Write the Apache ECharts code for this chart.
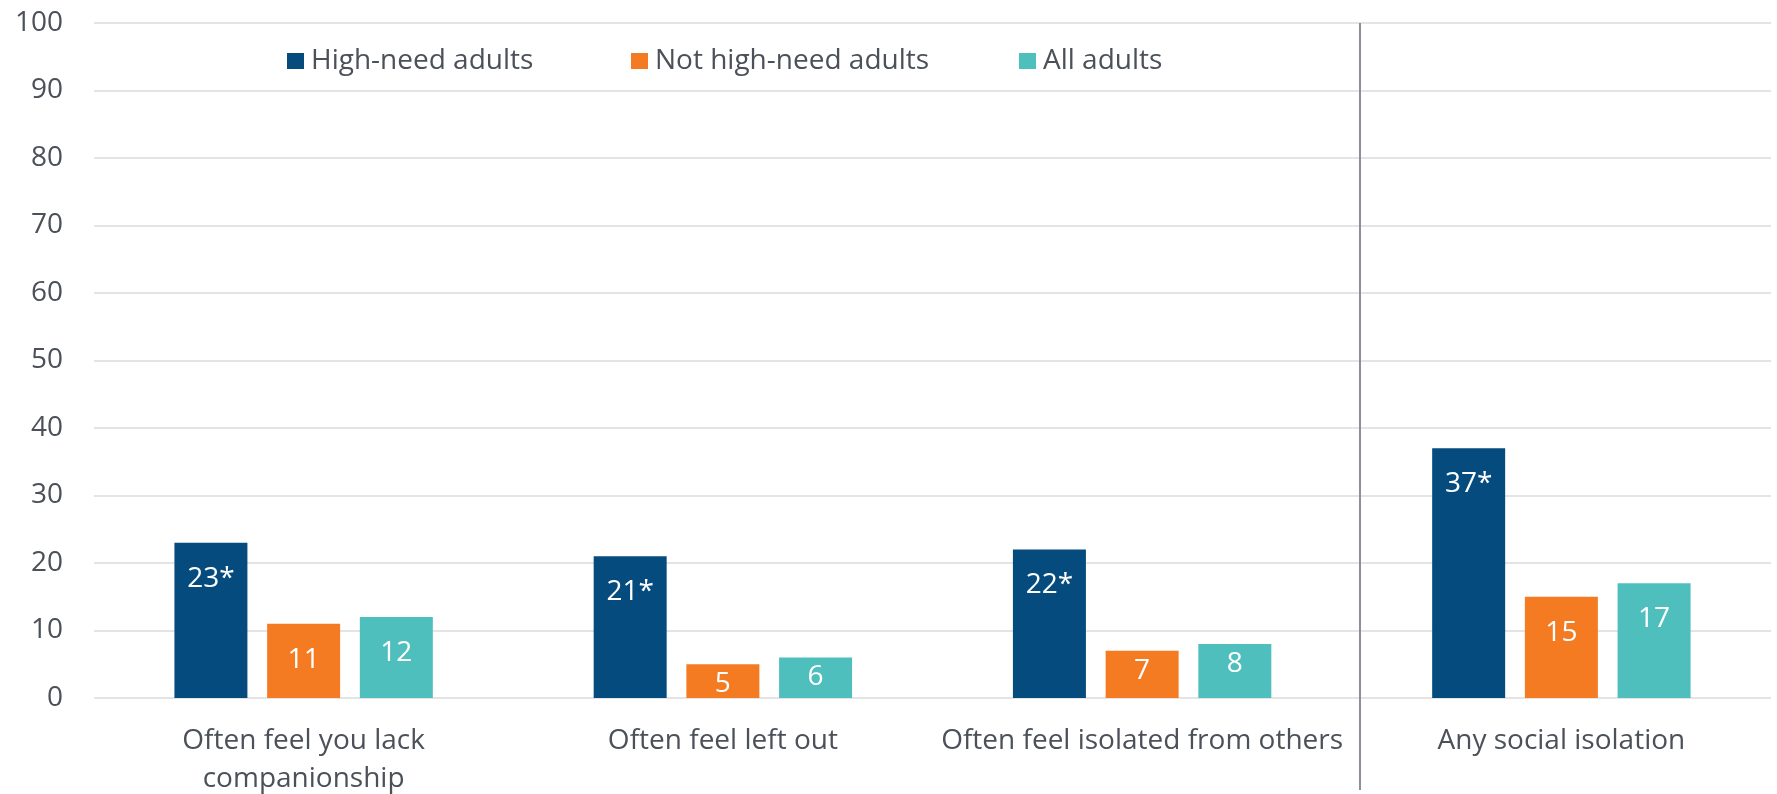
<!DOCTYPE html>
<html>
<head>
<meta charset="utf-8">
<script src="https://cdn.jsdelivr.net/npm/echarts@6/dist/echarts.min.js"></script>
<style>
  html, body { margin: 0; padding: 0; background: #fff; }
  #chart { width: 1777px; height: 794px; }
</style>
</head>
<body>
<div id="chart"></div>
<script>
// 类别标签（换行写在名称里）
const categories = [
    'Often feel you lack\ncompanionship',
    'Often feel left out',
    'Often feel isolated from others',
    'Any social isolation'
];

// 系列名称
const seriesNames = ['High-need adults', 'Not high-need adults', 'All adults'];

// 数值（%）
const highNeed = [23, 21, 22, 37];
const notHighNeed = [11, 5, 7, 15];
const allAdults = [12, 6, 8, 17];

// 显著性标记（*）
const highNeedSig = [true, true, true, true];

// y轴刻度
const yMin = 0;
const yMax = 100;
const yStep = 10;

const colors = ['#064B7D', '#F47B22', '#4FBFBE'];
const textColor = '#4b5059';
const fontFamily = '"Open Sans", "Noto Sans", sans-serif';

const chartDom = document.getElementById('chart');
const myChart = echarts.init(chartDom);

const barLabel = (sig) => ({
    show: true,
    position: 'insideTop',
    distance: 22,
    color: '#fff',
    fontSize: 28,
    fontFamily: fontFamily,
    formatter: function (params) {
        return params.value + (sig && sig[params.dataIndex] ? '*' : '');
    }
});

// 矮柱子的标签离顶部近一些
const toItems = (values) => values.map(v => ({
    value: v,
    label: { distance: v < 10 ? 6 : 22 }
}));

// 图例：每项单独放置
const legendLefts = [282, 626, 1014];
const legends = seriesNames.map((name, i) => ({
    data: [name],
    left: legendLefts[i],
    top: 42,
    itemWidth: 17,
    itemHeight: 16,
    icon: 'rect',
    textStyle: {
        color: textColor,
        fontSize: 28,
        fontFamily: fontFamily,
        padding: [0, 0, 0, 2]
    }
}));

const option = {
    backgroundColor: '#fff',
    animation: false,
    color: colors,
    grid: {
        left: 94,
        right: 6,
        top: 23,
        bottom: 96,
        containLabel: false,
        outerBoundsMode: 'none'
    },
    legend: legends,
    xAxis: {
        type: 'category',
        data: categories,
        axisLine: { show: false },
        axisTick: { show: false },
        axisLabel: {
            color: textColor,
            fontSize: 28,
            fontFamily: fontFamily,
            lineHeight: 38,
            margin: 24,
            interval: 0
        }
    },
    yAxis: {
        type: 'value',
        min: yMin,
        max: yMax,
        interval: yStep,
        axisLine: { show: false },
        axisTick: { show: false },
        axisLabel: {
            color: textColor,
            fontSize: 28,
            fontFamily: fontFamily,
            margin: 31
        },
        splitLine: {
            lineStyle: { color: '#e4e4e4', width: 2 }
        }
    },
    series: [
        {
            name: seriesNames[0],
            type: 'bar',
            data: toItems(highNeed),
            barWidth: 73,
            barGap: '27%',
            label: barLabel(highNeedSig)
        },
        {
            name: seriesNames[1],
            type: 'bar',
            data: toItems(notHighNeed),
            barWidth: 73,
            barGap: '27%',
            label: barLabel(null)
        },
        {
            name: seriesNames[2],
            type: 'bar',
            data: toItems(allAdults),
            barWidth: 73,
            barGap: '27%',
            label: barLabel(null)
        }
    ]
};

myChart.setOption(option);

// 分隔线：位于第3和第4个类别之间，用坐标轴换算位置
const x2 = myChart.convertToPixel({ xAxisIndex: 0 }, 2);
const x3 = myChart.convertToPixel({ xAxisIndex: 0 }, 3);
const xDiv = Math.round(x2 + (x3 - x2) * 0.52);
const yTop = myChart.convertToPixel({ yAxisIndex: 0 }, yMax);

myChart.setOption({
    graphic: [
        {
            type: 'line',
            shape: { x1: xDiv, y1: yTop, x2: xDiv, y2: myChart.getHeight() - 4 },
            style: { stroke: '#8a8f99', lineWidth: 2 },
            z: 10
        }
    ]
});

window.addEventListener('resize', () => {
    myChart.resize();
});
</script>
</body>
</html>
